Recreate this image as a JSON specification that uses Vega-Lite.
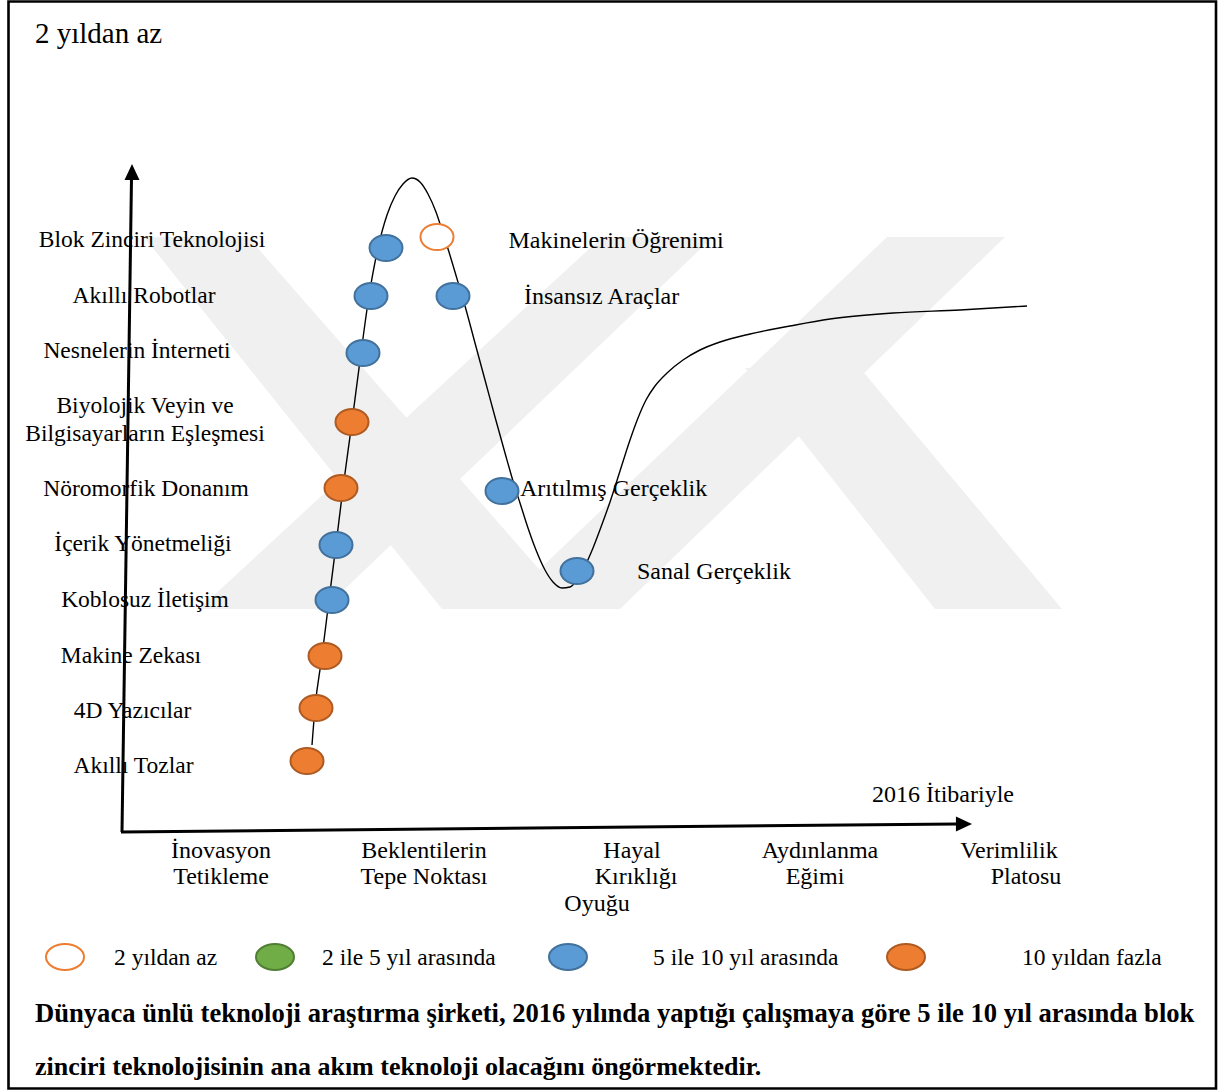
{
  "$schema": "https://vega.github.io/schema/vega-lite/v6.json",
  "width": 1219,
  "height": 1090,
  "autosize": "none",
  "padding": 0,
  "background": "white",
  "config": {"view": {"stroke": null}},
  "datasets": {
    "frame": [{"x": 8.5, "y": 1.5, "x2": 1216, "y2": 1088.5}],
    "watermark": [
      {"band": "P", "y": 237, "x": 144, "x2": 248},
      {"band": "P", "y": 609, "x": 442, "x2": 574},
      {"band": "Q", "y": 237, "x": 602, "x2": 713},
      {"band": "Q", "y": 609, "x": 199, "x2": 324},
      {"band": "R", "y": 237, "x": 887, "x2": 1005},
      {"band": "R", "y": 609, "x": 498, "x2": 620},
      {"band": "S", "y": 368, "x": 745, "x2": 860},
      {"band": "S", "y": 609, "x": 935, "x2": 1062}
    ],
    "axes": [
      {"axis": "vertical", "x": 122, "y": 832, "x2": 131.5, "y2": 178},
      {"axis": "horizontal", "x": 121, "y": 832, "x2": 957, "y2": 824}
    ],
    "heads": [
      {"dir": "up", "x": 132, "y": 174.7},
      {"dir": "right", "x": 961.3, "y": 824}
    ],
    "curve": [
      {"x": 312, "y": 745}, {"x": 315, "y": 708}, {"x": 322, "y": 656}, {"x": 329, "y": 600},
      {"x": 336, "y": 545}, {"x": 343, "y": 488}, {"x": 352, "y": 422}, {"x": 361, "y": 353},
      {"x": 369, "y": 296}, {"x": 378, "y": 248}, {"x": 387, "y": 215}, {"x": 395, "y": 196},
      {"x": 403, "y": 184}, {"x": 412, "y": 178}, {"x": 420, "y": 182}, {"x": 428, "y": 194},
      {"x": 436, "y": 212}, {"x": 442, "y": 230}, {"x": 449, "y": 252}, {"x": 455, "y": 272},
      {"x": 460, "y": 289}, {"x": 465, "y": 306}, {"x": 475, "y": 343}, {"x": 485, "y": 380},
      {"x": 495, "y": 417}, {"x": 505, "y": 453}, {"x": 513, "y": 481}, {"x": 520, "y": 503},
      {"x": 528, "y": 528}, {"x": 536, "y": 550}, {"x": 545, "y": 570}, {"x": 553, "y": 582},
      {"x": 562, "y": 588}, {"x": 570, "y": 587}, {"x": 577, "y": 580}, {"x": 585, "y": 566},
      {"x": 593, "y": 548}, {"x": 601, "y": 527}, {"x": 610, "y": 502}, {"x": 620, "y": 471},
      {"x": 630, "y": 440}, {"x": 638, "y": 418}, {"x": 646, "y": 400}, {"x": 655, "y": 386},
      {"x": 667, "y": 373}, {"x": 683, "y": 360}, {"x": 700, "y": 350}, {"x": 720, "y": 342},
      {"x": 750, "y": 334}, {"x": 790, "y": 326}, {"x": 830, "y": 319}, {"x": 893, "y": 313},
      {"x": 960, "y": 310}, {"x": 1027, "y": 306}
    ],
    "dots": [
      {"name": "Blok Zinciri Teknolojisi", "cat": "5 ile 10 yıl arasında", "x": 386, "y": 248},
      {"name": "Makinelerin Öğrenimi", "cat": "2 yıldan az", "x": 437, "y": 237},
      {"name": "Akıllı Robotlar", "cat": "5 ile 10 yıl arasında", "x": 371, "y": 296},
      {"name": "İnsansız Araçlar", "cat": "5 ile 10 yıl arasında", "x": 453, "y": 296},
      {"name": "Nesnelerin İnterneti", "cat": "5 ile 10 yıl arasında", "x": 363, "y": 353},
      {"name": "Biyolojik Veyin ve Bilgisayarların Eşleşmesi", "cat": "10 yıldan fazla", "x": 352, "y": 422},
      {"name": "Nöromorfik Donanım", "cat": "10 yıldan fazla", "x": 341, "y": 488},
      {"name": "İçerik Yönetmeliği", "cat": "5 ile 10 yıl arasında", "x": 336, "y": 545},
      {"name": "Koblosuz İletişim", "cat": "5 ile 10 yıl arasında", "x": 332, "y": 600},
      {"name": "Makine Zekası", "cat": "10 yıldan fazla", "x": 325, "y": 656},
      {"name": "4D Yazıcılar", "cat": "10 yıldan fazla", "x": 316, "y": 708},
      {"name": "Akıllı Tozlar", "cat": "10 yıldan fazla", "x": 307, "y": 761},
      {"name": "Arıtılmış Gerçeklik", "cat": "5 ile 10 yıl arasında", "x": 502, "y": 491},
      {"name": "Sanal Gerçeklik", "cat": "5 ile 10 yıl arasında", "x": 577, "y": 571}
    ],
    "leftLabels": [
      {"label": "Blok Zinciri Teknolojisi", "x": 152, "y": 247},
      {"label": "Akıllı Robotlar", "x": 144, "y": 303},
      {"label": "Nesnelerin İnterneti", "x": 137, "y": 358},
      {"label": "Biyolojik Veyin ve", "x": 145, "y": 413},
      {"label": "Bilgisayarların Eşleşmesi", "x": 145, "y": 441},
      {"label": "Nöromorfik Donanım", "x": 146, "y": 496},
      {"label": "İçerik Yönetmeliği", "x": 143, "y": 551},
      {"label": "Koblosuz İletişim", "x": 145, "y": 607},
      {"label": "Makine Zekası", "x": 131, "y": 663},
      {"label": "4D Yazıcılar", "x": 132.5, "y": 718},
      {"label": "Akıllı Tozlar", "x": 133.5, "y": 773}
    ],
    "rightLabels": [
      {"label": "Makinelerin Öğrenimi", "x": 508.5, "y": 248},
      {"label": "İnsansız Araçlar", "x": 524, "y": 304},
      {"label": "Arıtılmış Gerçeklik", "x": 520, "y": 496},
      {"label": "Sanal Gerçeklik", "x": 637, "y": 579},
      {"label": "2016 İtibariyle", "x": 872, "y": 802}
    ],
    "phaseLabels": [
      {"label": "İnovasyon", "x": 221, "y": 858},
      {"label": "Tetikleme", "x": 221, "y": 884},
      {"label": "Beklentilerin", "x": 424, "y": 858},
      {"label": "Tepe Noktası", "x": 424, "y": 884},
      {"label": "Hayal", "x": 632, "y": 858},
      {"label": "Kırıklığı", "x": 636, "y": 884},
      {"label": "Oyuğu", "x": 597, "y": 911},
      {"label": "Aydınlanma", "x": 820, "y": 858},
      {"label": "Eğimi", "x": 815, "y": 884},
      {"label": "Verimlilik", "x": 1009, "y": 858},
      {"label": "Platosu", "x": 1026, "y": 884}
    ],
    "legendMarks": [
      {"cat": "2 yıldan az", "x": 65, "y": 957},
      {"cat": "2 ile 5 yıl arasında", "x": 275, "y": 957},
      {"cat": "5 ile 10 yıl arasında", "x": 568, "y": 957},
      {"cat": "10 yıldan fazla", "x": 906, "y": 957}
    ],
    "legendLabels": [
      {"label": "2 yıldan az", "x": 114, "y": 965},
      {"label": "2 ile 5 yıl arasında", "x": 322, "y": 965},
      {"label": "5 ile 10 yıl arasında", "x": 653, "y": 965},
      {"label": "10 yıldan fazla", "x": 1022, "y": 965}
    ],
    "title": [{"label": "2 yıldan az", "x": 35, "y": 43}],
    "para1": [{"label": "Dünyaca ünlü teknoloji araştırma şirketi, 2016 yılında yaptığı çalışmaya göre 5 ile 10 yıl arasında blok", "x": 35, "y": 1022}],
    "para2": [{"label": "zinciri teknolojisinin ana akım teknoloji olacağını öngörmektedir.", "x": 35, "y": 1075}]
  },
  "encoding": {
    "x": {"field": "x", "type": "quantitative", "scale": {"domain": [0, 1219], "nice": false, "zero": false}, "axis": null},
    "y": {"field": "y", "type": "quantitative", "scale": {"domain": [0, 1090], "nice": false, "zero": false, "reverse": true}, "axis": null}
  },
  "layer": [
    {
      "data": {"name": "watermark"},
      "mark": {"type": "area", "orient": "horizontal", "color": "#F0F0F0", "opacity": 1},
      "encoding": {
        "x": {"field": "x", "type": "quantitative", "stack": null, "scale": {"domain": [0, 1219], "nice": false, "zero": false}, "axis": null},
        "x2": {"field": "x2"},
        "detail": {"field": "band"}
      }
    },
    {
      "data": {"name": "frame"},
      "mark": {"type": "rect", "filled": false, "stroke": "black", "strokeWidth": 2.6},
      "encoding": {"x2": {"field": "x2"}, "y2": {"field": "y2"}}
    },
    {
      "data": {"name": "axes"},
      "mark": {"type": "rule", "color": "black", "strokeWidth": 3, "strokeCap": "butt"},
      "encoding": {"x2": {"field": "x2"}, "y2": {"field": "y2"}, "detail": {"field": "axis"}}
    },
    {
      "data": {"name": "heads"},
      "mark": {"type": "point", "filled": true, "color": "black", "opacity": 1, "size": 458, "strokeWidth": 0},
      "encoding": {
        "shape": {"field": "dir", "type": "nominal", "legend": null,
          "scale": {"domain": ["up", "right"], "range": ["M0,-1L0.7,0.5L-0.7,0.5Z", "M1,0L-0.5,0.7L-0.5,-0.7Z"]}}
      }
    },
    {
      "data": {"name": "curve"},
      "mark": {"type": "line", "color": "black", "strokeWidth": 1.4, "interpolate": "monotone"},
      "encoding": {}
    },
    {
      "data": {"name": "dots"},
      "mark": {"type": "point", "filled": true, "opacity": 1, "size": 1089, "strokeWidth": 2,
        "shape": "M1,0C1,0.4363,0.5523,0.79,0,0.79C-0.5523,0.79,-1,0.4363,-1,0C-1,-0.4363,-0.5523,-0.79,0,-0.79C0.5523,-0.79,1,-0.4363,1,0Z"},
      "encoding": {
        "fill": {"field": "cat", "type": "nominal", "legend": null,
          "scale": {"domain": ["2 yıldan az", "2 ile 5 yıl arasında", "5 ile 10 yıl arasında", "10 yıldan fazla"], "range": ["#FFFFFF", "#70AD47", "#5B9BD5", "#ED7D31"]}},
        "stroke": {"field": "cat", "type": "nominal", "legend": null,
          "scale": {"domain": ["2 yıldan az", "2 ile 5 yıl arasında", "5 ile 10 yıl arasında", "10 yıldan fazla"], "range": ["#ED7D31", "#507E32", "#41719C", "#AE5A21"]}}
      }
    },
    {
      "data": {"name": "legendMarks"},
      "mark": {"type": "point", "filled": true, "opacity": 1, "size": 1444, "strokeWidth": 2,
        "shape": "M1,0C1,0.3756,0.5523,0.68,0,0.68C-0.5523,0.68,-1,0.3756,-1,0C-1,-0.3756,-0.5523,-0.68,0,-0.68C0.5523,-0.68,1,-0.3756,1,0Z"},
      "encoding": {
        "fill": {"field": "cat", "type": "nominal", "legend": null,
          "scale": {"domain": ["2 yıldan az", "2 ile 5 yıl arasında", "5 ile 10 yıl arasında", "10 yıldan fazla"], "range": ["#FFFFFF", "#70AD47", "#5B9BD5", "#ED7D31"]}},
        "stroke": {"field": "cat", "type": "nominal", "legend": null,
          "scale": {"domain": ["2 yıldan az", "2 ile 5 yıl arasında", "5 ile 10 yıl arasında", "10 yıldan fazla"], "range": ["#ED7D31", "#507E32", "#41719C", "#AE5A21"]}}
      }
    },
    {
      "data": {"name": "leftLabels"},
      "mark": {"type": "text", "font": "Liberation Serif", "fontSize": 23.5, "color": "black", "align": "center", "baseline": "alphabetic"},
      "encoding": {"text": {"field": "label"}}
    },
    {
      "data": {"name": "rightLabels"},
      "mark": {"type": "text", "font": "Liberation Serif", "fontSize": 24, "color": "black", "align": "left", "baseline": "alphabetic"},
      "encoding": {"text": {"field": "label"}}
    },
    {
      "data": {"name": "phaseLabels"},
      "mark": {"type": "text", "font": "Liberation Serif", "fontSize": 24, "color": "black", "align": "center", "baseline": "alphabetic"},
      "encoding": {"text": {"field": "label"}}
    },
    {
      "data": {"name": "legendLabels"},
      "mark": {"type": "text", "font": "Liberation Serif", "fontSize": 23.5, "color": "black", "align": "left", "baseline": "alphabetic"},
      "encoding": {"text": {"field": "label"}}
    },
    {
      "data": {"name": "title"},
      "mark": {"type": "text", "font": "Liberation Serif", "fontSize": 29, "color": "black", "align": "left", "baseline": "alphabetic"},
      "encoding": {"text": {"field": "label"}}
    },
    {
      "data": {"name": "para1"},
      "mark": {"type": "text", "font": "Liberation Serif", "fontSize": 26.6, "fontWeight": "bold", "color": "black", "align": "left", "baseline": "alphabetic"},
      "encoding": {"text": {"field": "label"}}
    },
    {
      "data": {"name": "para2"},
      "mark": {"type": "text", "font": "Liberation Serif", "fontSize": 26, "fontWeight": "bold", "color": "black", "align": "left", "baseline": "alphabetic"},
      "encoding": {"text": {"field": "label"}}
    }
  ]
}
